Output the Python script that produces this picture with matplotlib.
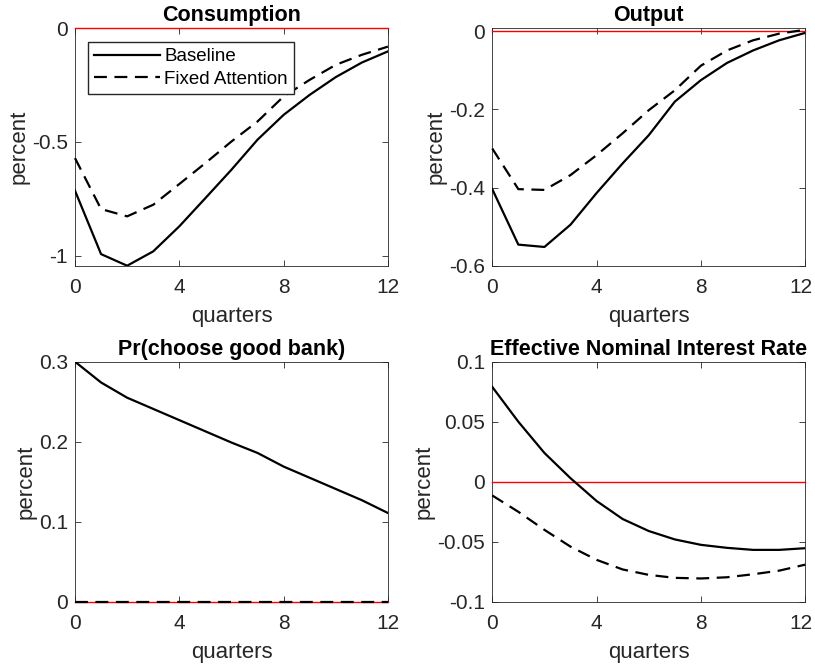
import matplotlib
matplotlib.use("Agg")
import matplotlib.pyplot as plt
import matplotlib.transforms as mtransforms
import numpy as np

plt.rcParams["font.family"] = ["Liberation Sans", "DejaVu Sans"]
plt.rcParams["axes.unicode_minus"] = False

quarters = np.arange(13)

cons_base = [-0.714, -0.993, -1.044, -0.981, -0.871, -0.747, -0.622, -0.49, -0.381,
             -0.293, -0.215, -0.151, -0.102]
cons_fixed = [-0.571, -0.795, -0.827, -0.776, -0.685, -0.593, -0.498, -0.41, -0.30,
              -0.227, -0.161, -0.117, -0.081]

out_base = [-0.404, -0.546, -0.552, -0.495, -0.414, -0.338, -0.266, -0.18, -0.125,
            -0.081, -0.049, -0.023, -0.004]
out_fixed = [-0.30, -0.404, -0.406, -0.368, -0.317, -0.261, -0.202, -0.151, -0.088,
             -0.049, -0.023, -0.006, 0.004]

pr_base = [0.30, 0.274, 0.255, 0.241, 0.227, 0.213, 0.199, 0.186, 0.169,
           0.155, 0.141, 0.127, 0.111]
pr_fixed = [0.0] * 13

rate_base = [0.079, 0.050, 0.024, 0.003, -0.016, -0.031, -0.041, -0.048, -0.0525,
             -0.055, -0.0567, -0.0567, -0.0553]
rate_fixed = [-0.0114, -0.025, -0.040, -0.054, -0.065, -0.073, -0.0775, -0.080, -0.0805,
              -0.0795, -0.077, -0.074, -0.069]

panels = [
    ("Consumption", cons_base, cons_fixed, (-1.044, 0), [-1, -0.5, 0], ["-1", "-0.5", "0"]),
    ("Output", out_base, out_fixed, (-0.6, 0.008), [-0.6, -0.4, -0.2, 0], ["-0.6", "-0.4", "-0.2", "0"]),
    ("Pr(choose good bank)", pr_base, pr_fixed, (0, 0.3), [0, 0.1, 0.2, 0.3], ["0", "0.1", "0.2", "0.3"]),
    ("Effective Nominal Interest Rate", rate_base, rate_fixed, (-0.1, 0.1),
     [-0.1, -0.05, 0, 0.05, 0.1], ["-0.1", "-0.05", "0", "0.05", "0.1"]),
]

positions = [
    [0.092, 0.604, 0.384, 0.354],
    [0.604, 0.604, 0.384, 0.354],
    [0.092, 0.103, 0.384, 0.358],
    [0.604, 0.103, 0.384, 0.358],
]

fig = plt.figure(figsize=(8.15, 6.71), dpi=100)
txt = "#262626"

for i, (title, base, fixed, ylim, yt, ytl) in enumerate(panels):
    ax = fig.add_axes(positions[i])
    ax.axhline(0, color="red", lw=1.0, zorder=2.6, clip_on=False)
    ax.plot(quarters, base, color="black", lw=1.6, label="Baseline", zorder=3)
    ax.plot(quarters, fixed, color="black", lw=1.6, dashes=(5.8, 3.4),
            label="Fixed Attention", zorder=3, clip_on=False)
    ax.set_xlim(0, 12)
    ax.set_ylim(*ylim)
    ax.set_xticks([0, 4, 8, 12])
    ax.set_yticks(yt)
    ax.set_yticklabels(ytl)
    ax.tick_params(direction="in", length=4, width=0.6, top=True, right=True,
                   labelsize=15, colors=txt)
    ax.tick_params(axis="x", pad=9)
    ax.tick_params(axis="y", pad=5)
    for s in ax.spines.values():
        s.set_linewidth(0.6)
        s.set_color(txt)
    ax.set_xlabel("quarters", fontsize=16, color=txt, labelpad=6)
    ax.set_ylabel("percent", fontsize=16, color=txt, labelpad=2)
    ax.set_title(title, fontsize=15.5, fontweight="bold", pad=5)
    if i % 2 == 1:
        # keep the last tick label inside the figure, as in the original
        last = ax.get_xticklabels()[-1]
        shift = mtransforms.ScaledTranslation(-4 / 100, 0, fig.dpi_scale_trans)
        last.set_transform(last.get_transform() + shift)
    if i == 0:
        ax.legend(loc="upper left", bbox_to_anchor=(0.043, 0.94), fontsize=13.5,
                  frameon=True, fancybox=False, edgecolor=txt, framealpha=1,
                  handlelength=3.5, borderpad=0.3, labelspacing=0.3,
                  handletextpad=0.25, borderaxespad=0)

fig.savefig("out.png", dpi=100)
